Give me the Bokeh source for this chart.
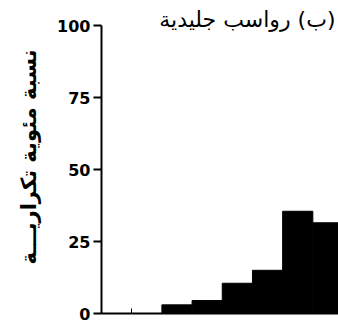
from bokeh.plotting import figure
from bokeh.models import Range1d, FixedTicker, Label
from bokeh.embed import file_html
from bokeh.resources import INLINE

# Data
bin_edges = [0, 1, 2, 3, 4, 5, 6, 7, 8]
percent = [0, 0, 3, 4.5, 10.5, 15, 35.5, 31.5]
y_ticks = [0, 25, 50, 75, 100]
title_text = "\u200F(ب) رواسب جليدية\u200F"
y_label = "\u200Fنسبة مئوية تكراريـــة\u200F"

p = figure(width=338, height=331, output_backend="svg", toolbar_location=None,
           x_range=Range1d(0, 7.85), y_range=Range1d(0, 108.7),
           min_border_left=101, min_border_right=0, min_border_top=0, min_border_bottom=18)

p.quad(left=bin_edges[:-1], right=bin_edges[1:], bottom=0, top=percent,
       fill_color="black", line_color="black")

p.xgrid.visible = False
p.ygrid.visible = False
p.outline_line_color = None
p.background_fill_color = "white"
p.border_fill_color = "white"

ya = p.yaxis[0]
ya.ticker = FixedTicker(ticks=y_ticks)
ya.bounds = (0, 100)
ya.axis_line_width = 2
ya.axis_line_color = "black"
ya.major_tick_line_width = 2
ya.major_tick_line_color = "black"
ya.major_tick_out = 8
ya.major_tick_in = 0
ya.minor_tick_out = 0
ya.minor_tick_in = 0
ya.major_label_text_font = "DejaVu Sans"
ya.major_label_text_font_style = "bold"
ya.major_label_text_font_size = "16px"
ya.major_label_text_color = "black"
ya.major_label_standoff = 3
ya.axis_label = y_label
ya.axis_label_text_font = "DejaVu Sans"
ya.axis_label_text_font_style = "bold"
ya.axis_label_text_font_size = "21px"
ya.axis_label_text_color = "black"
ya.axis_label_standoff = 13

xa = p.xaxis[0]
xa.ticker = FixedTicker(ticks=[1])
xa.axis_line_width = 2
xa.axis_line_color = "black"
xa.major_tick_line_width = 1
xa.major_tick_line_color = "black"
xa.major_tick_in = 5
xa.major_tick_out = 0
xa.minor_tick_out = 0
xa.minor_tick_in = 0
xa.major_label_text_color = None
xa.major_label_text_font_size = "1px"
xa.major_label_standoff = 0

p.add_layout(Label(x=7.75, y=102, text=title_text, text_align="right",
                   text_baseline="alphabetic", text_font="DejaVu Sans",
                   text_font_size="22px", text_color="black"))

open("out.html", "w").write(file_html(p, INLINE))
